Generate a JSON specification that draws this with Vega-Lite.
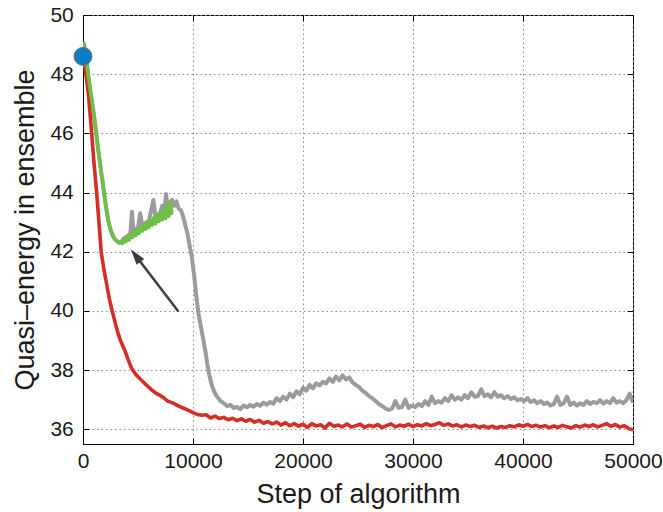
{
  "$schema": "https://vega.github.io/schema/vega-lite/v6.json",
  "width": 550,
  "height": 429,
  "autosize": "none",
  "padding": {"left": 83, "top": 15, "right": 30, "bottom": 68},
  "background": "white",
  "config": {
    "view": {"stroke": "black", "strokeWidth": 1},
    "font": "Liberation Sans",
    "axis": {
      "domainColor": "black",
      "domainWidth": 1,
      "tickColor": "black",
      "tickSize": -6,
      "tickWidth": 1,
      "labelColor": "#1a1a1a",
      "labelFont": "Liberation Sans",
      "labelFontSize": 21,
      "labelFlush": false,
      "labelOverlap": false,
      "titleFont": "Liberation Sans",
      "titleFontSize": 27,
      "titleFontWeight": "normal",
      "titleColor": "#1a1a1a",
      "gridColor": "#8c8c8c",
      "gridDash": [1.5, 3],
      "gridWidth": 1
    }
  },
  "datasets": {
    "red": [
      {"x": 0, "y": 48.6}, {"x": 150, "y": 48.3}, {"x": 300, "y": 47.9}, {"x": 500, "y": 47.3},
      {"x": 790, "y": 46.0}, {"x": 1000, "y": 45.0}, {"x": 1240, "y": 44.0}, {"x": 1450, "y": 43.0},
      {"x": 1650, "y": 42.0}, {"x": 1900, "y": 41.4}, {"x": 2150, "y": 40.9}, {"x": 2400, "y": 40.4},
      {"x": 2650, "y": 40.0}, {"x": 3060, "y": 39.4}, {"x": 3400, "y": 39.0}, {"x": 3820, "y": 38.65},
      {"x": 4100, "y": 38.35}, {"x": 4430, "y": 38.05}, {"x": 4800, "y": 37.85}, {"x": 5200, "y": 37.7},
      {"x": 5600, "y": 37.55}, {"x": 6240, "y": 37.33}, {"x": 6700, "y": 37.2}, {"x": 7200, "y": 37.1},
      {"x": 7700, "y": 36.95}, {"x": 8200, "y": 36.88}, {"x": 8700, "y": 36.78}, {"x": 9200, "y": 36.7},
      {"x": 9700, "y": 36.62},
      {"x": 10000, "y": 36.56}, {"x": 10400, "y": 36.50}, {"x": 10800, "y": 36.47}, {"x": 11200, "y": 36.49},
      {"x": 11600, "y": 36.38}, {"x": 12000, "y": 36.44}, {"x": 12400, "y": 36.36}, {"x": 12800, "y": 36.40},
      {"x": 13200, "y": 36.32}, {"x": 13600, "y": 36.37}, {"x": 14000, "y": 36.29}, {"x": 14400, "y": 36.35},
      {"x": 14800, "y": 36.27}, {"x": 15200, "y": 36.33}, {"x": 15600, "y": 36.24}, {"x": 16000, "y": 36.30},
      {"x": 16400, "y": 36.20}, {"x": 16800, "y": 36.26}, {"x": 17200, "y": 36.18}, {"x": 17600, "y": 36.24},
      {"x": 18000, "y": 36.14}, {"x": 18400, "y": 36.22}, {"x": 18800, "y": 36.12}, {"x": 19200, "y": 36.19},
      {"x": 19600, "y": 36.10}, {"x": 20000, "y": 36.17}, {"x": 20400, "y": 36.06}, {"x": 20800, "y": 36.19},
      {"x": 21200, "y": 36.11}, {"x": 21600, "y": 36.15}, {"x": 22000, "y": 36.04}, {"x": 22400, "y": 36.20},
      {"x": 22800, "y": 36.10}, {"x": 23200, "y": 36.14}, {"x": 23600, "y": 36.08}, {"x": 24000, "y": 36.18},
      {"x": 24400, "y": 36.07}, {"x": 24800, "y": 36.12}, {"x": 25200, "y": 36.17}, {"x": 25600, "y": 36.06},
      {"x": 26000, "y": 36.13}, {"x": 26400, "y": 36.09}, {"x": 26800, "y": 36.16}, {"x": 27200, "y": 36.05},
      {"x": 27600, "y": 36.12}, {"x": 28000, "y": 36.18}, {"x": 28400, "y": 36.08}, {"x": 28800, "y": 36.14},
      {"x": 29200, "y": 36.10}, {"x": 29600, "y": 36.17}, {"x": 30000, "y": 36.09}, {"x": 30400, "y": 36.15},
      {"x": 30800, "y": 36.11}, {"x": 31200, "y": 36.19}, {"x": 31600, "y": 36.12}, {"x": 32000, "y": 36.16},
      {"x": 32400, "y": 36.22}, {"x": 32800, "y": 36.13}, {"x": 33200, "y": 36.18}, {"x": 33600, "y": 36.11},
      {"x": 34000, "y": 36.15}, {"x": 34400, "y": 36.08}, {"x": 34800, "y": 36.14}, {"x": 35200, "y": 36.09},
      {"x": 35600, "y": 36.13}, {"x": 36000, "y": 36.06}, {"x": 36400, "y": 36.11}, {"x": 36800, "y": 36.05},
      {"x": 37200, "y": 36.10}, {"x": 37600, "y": 36.04}, {"x": 38000, "y": 36.09}, {"x": 38400, "y": 36.06},
      {"x": 38800, "y": 36.12}, {"x": 39200, "y": 36.08}, {"x": 39600, "y": 36.15}, {"x": 40000, "y": 36.10},
      {"x": 40400, "y": 36.16}, {"x": 40800, "y": 36.09}, {"x": 41200, "y": 36.13}, {"x": 41600, "y": 36.07},
      {"x": 42000, "y": 36.12}, {"x": 42400, "y": 36.05}, {"x": 42800, "y": 36.11}, {"x": 43200, "y": 36.06},
      {"x": 43600, "y": 36.13}, {"x": 44000, "y": 36.08}, {"x": 44400, "y": 36.04}, {"x": 44800, "y": 36.12},
      {"x": 45200, "y": 36.07}, {"x": 45600, "y": 36.14}, {"x": 46000, "y": 36.09}, {"x": 46400, "y": 36.15},
      {"x": 46800, "y": 36.08}, {"x": 47200, "y": 36.13}, {"x": 47600, "y": 36.19}, {"x": 48000, "y": 36.10},
      {"x": 48400, "y": 36.16}, {"x": 48800, "y": 36.07}, {"x": 49200, "y": 36.12}, {"x": 49600, "y": 36.02},
      {"x": 50000, "y": 35.98}
    ],
    "gray": [
      {"x": 0, "y": 49.1}, {"x": 100, "y": 49.0}, {"x": 300, "y": 48.5}, {"x": 500, "y": 47.9},
      {"x": 800, "y": 47.1}, {"x": 1000, "y": 46.6}, {"x": 1200, "y": 46.0}, {"x": 1400, "y": 45.4},
      {"x": 1650, "y": 44.7}, {"x": 1910, "y": 44.0}, {"x": 2100, "y": 43.5}, {"x": 2300, "y": 43.05},
      {"x": 2500, "y": 42.75}, {"x": 2700, "y": 42.55}, {"x": 2900, "y": 42.42}, {"x": 3100, "y": 42.35},
      {"x": 3300, "y": 42.3}, {"x": 3500, "y": 42.35}, {"x": 3700, "y": 42.45}, {"x": 3900, "y": 42.5},
      {"x": 4100, "y": 42.55}, {"x": 4300, "y": 42.6}, {"x": 4450, "y": 43.35}, {"x": 4600, "y": 42.65},
      {"x": 4800, "y": 42.75}, {"x": 5000, "y": 42.8}, {"x": 5200, "y": 43.3}, {"x": 5400, "y": 42.85},
      {"x": 5600, "y": 42.95}, {"x": 5800, "y": 43.0}, {"x": 6000, "y": 43.05}, {"x": 6200, "y": 43.4},
      {"x": 6400, "y": 43.75}, {"x": 6600, "y": 43.15}, {"x": 6800, "y": 43.25}, {"x": 7000, "y": 43.3},
      {"x": 7200, "y": 43.55}, {"x": 7400, "y": 43.4}, {"x": 7550, "y": 43.95}, {"x": 7700, "y": 43.5},
      {"x": 7900, "y": 43.6}, {"x": 8100, "y": 43.75}, {"x": 8300, "y": 43.55}, {"x": 8500, "y": 43.7},
      {"x": 8700, "y": 43.45}, {"x": 8900, "y": 43.4}, {"x": 9100, "y": 43.2}, {"x": 9300, "y": 42.9},
      {"x": 9500, "y": 42.6}, {"x": 9700, "y": 42.2}, {"x": 9900, "y": 41.8}, {"x": 10100, "y": 41.2},
      {"x": 10300, "y": 40.5}, {"x": 10500, "y": 39.9}, {"x": 10700, "y": 39.5}, {"x": 10900, "y": 39.1},
      {"x": 11100, "y": 38.7}, {"x": 11300, "y": 38.2}, {"x": 11500, "y": 37.8}, {"x": 11700, "y": 37.5},
      {"x": 11900, "y": 37.3}, {"x": 12100, "y": 37.15}, {"x": 12300, "y": 37.05}, {"x": 12500, "y": 36.95},
      {"x": 12800, "y": 36.88}, {"x": 13100, "y": 36.78}, {"x": 13400, "y": 36.82}, {"x": 13700, "y": 36.72},
      {"x": 14000, "y": 36.75}, {"x": 14300, "y": 36.68}, {"x": 14600, "y": 36.8}, {"x": 14900, "y": 36.74},
      {"x": 15200, "y": 36.82}, {"x": 15500, "y": 36.76}, {"x": 15800, "y": 36.85}, {"x": 16100, "y": 36.79},
      {"x": 16400, "y": 36.9}, {"x": 16700, "y": 36.83}, {"x": 17000, "y": 36.92}, {"x": 17300, "y": 36.86},
      {"x": 17600, "y": 37.05}, {"x": 17900, "y": 36.95}, {"x": 18200, "y": 37.1}, {"x": 18500, "y": 37.0},
      {"x": 18800, "y": 37.2}, {"x": 19100, "y": 37.08}, {"x": 19400, "y": 37.28}, {"x": 19700, "y": 37.18},
      {"x": 20000, "y": 37.4}, {"x": 20300, "y": 37.3}, {"x": 20600, "y": 37.5}, {"x": 20900, "y": 37.38},
      {"x": 21200, "y": 37.55}, {"x": 21500, "y": 37.48}, {"x": 21800, "y": 37.6}, {"x": 22100, "y": 37.55},
      {"x": 22400, "y": 37.72}, {"x": 22700, "y": 37.6}, {"x": 23000, "y": 37.78}, {"x": 23300, "y": 37.65},
      {"x": 23600, "y": 37.82}, {"x": 23900, "y": 37.68}, {"x": 24200, "y": 37.75}, {"x": 24500, "y": 37.58},
      {"x": 24800, "y": 37.5}, {"x": 25100, "y": 37.42}, {"x": 25400, "y": 37.3}, {"x": 25700, "y": 37.22},
      {"x": 26000, "y": 37.12}, {"x": 26300, "y": 37.05}, {"x": 26600, "y": 36.95}, {"x": 26900, "y": 36.85},
      {"x": 27200, "y": 36.78}, {"x": 27500, "y": 36.7}, {"x": 27800, "y": 36.65}, {"x": 28100, "y": 36.7},
      {"x": 28400, "y": 36.95}, {"x": 28700, "y": 36.72}, {"x": 29000, "y": 36.75}, {"x": 29300, "y": 37.0},
      {"x": 29600, "y": 36.72}, {"x": 29900, "y": 36.8}, {"x": 30200, "y": 36.75}, {"x": 30500, "y": 36.85},
      {"x": 30800, "y": 36.78}, {"x": 31100, "y": 36.95}, {"x": 31400, "y": 36.82}, {"x": 31700, "y": 37.1},
      {"x": 32000, "y": 36.88}, {"x": 32300, "y": 36.95}, {"x": 32600, "y": 36.9}, {"x": 32900, "y": 37.05},
      {"x": 33200, "y": 36.95}, {"x": 33500, "y": 37.15}, {"x": 33800, "y": 37.0}, {"x": 34100, "y": 37.08},
      {"x": 34400, "y": 37.0}, {"x": 34700, "y": 37.15}, {"x": 35000, "y": 37.05}, {"x": 35300, "y": 37.25},
      {"x": 35600, "y": 37.1}, {"x": 35900, "y": 37.12}, {"x": 36200, "y": 37.35}, {"x": 36500, "y": 37.12},
      {"x": 36800, "y": 37.18}, {"x": 37100, "y": 37.08}, {"x": 37400, "y": 37.25}, {"x": 37700, "y": 37.1},
      {"x": 38000, "y": 37.15}, {"x": 38300, "y": 37.05}, {"x": 38600, "y": 37.12}, {"x": 38900, "y": 37.02},
      {"x": 39200, "y": 37.08}, {"x": 39500, "y": 36.98}, {"x": 39800, "y": 37.02}, {"x": 40100, "y": 36.95},
      {"x": 40400, "y": 37.05}, {"x": 40700, "y": 36.92}, {"x": 41000, "y": 36.98}, {"x": 41300, "y": 36.88},
      {"x": 41600, "y": 36.95}, {"x": 41900, "y": 36.85}, {"x": 42200, "y": 36.9}, {"x": 42500, "y": 36.8},
      {"x": 42800, "y": 36.85}, {"x": 43100, "y": 37.1}, {"x": 43400, "y": 36.82}, {"x": 43700, "y": 36.88},
      {"x": 44000, "y": 37.1}, {"x": 44300, "y": 36.82}, {"x": 44600, "y": 36.9}, {"x": 44900, "y": 36.8},
      {"x": 45200, "y": 36.88}, {"x": 45500, "y": 36.82}, {"x": 45800, "y": 36.95}, {"x": 46100, "y": 36.85},
      {"x": 46400, "y": 36.92}, {"x": 46700, "y": 36.88}, {"x": 47000, "y": 36.98}, {"x": 47300, "y": 36.86},
      {"x": 47600, "y": 36.95}, {"x": 47900, "y": 36.88}, {"x": 48200, "y": 37.05}, {"x": 48500, "y": 36.9},
      {"x": 48800, "y": 36.95}, {"x": 49100, "y": 36.88}, {"x": 49400, "y": 36.98}, {"x": 49700, "y": 37.2},
      {"x": 50000, "y": 36.9}
    ],
    "green": [
      {"x": 0, "y": 49.1}, {"x": 100, "y": 49.0}, {"x": 300, "y": 48.5}, {"x": 500, "y": 47.9},
      {"x": 800, "y": 47.1}, {"x": 1000, "y": 46.6}, {"x": 1200, "y": 46.0}, {"x": 1400, "y": 45.4},
      {"x": 1650, "y": 44.7}, {"x": 1910, "y": 44.0}, {"x": 2100, "y": 43.5}, {"x": 2300, "y": 43.05},
      {"x": 2500, "y": 42.75}, {"x": 2700, "y": 42.55}, {"x": 2900, "y": 42.42}, {"x": 3100, "y": 42.35},
      {"x": 3300, "y": 42.3}, {"x": 3450, "y": 42.33}, {"x": 3600, "y": 42.28}, {"x": 3750, "y": 42.42},
      {"x": 3900, "y": 42.34}, {"x": 4050, "y": 42.5}, {"x": 4200, "y": 42.4}, {"x": 4350, "y": 42.58},
      {"x": 4500, "y": 42.48}, {"x": 4650, "y": 42.68}, {"x": 4800, "y": 42.55}, {"x": 4950, "y": 42.75},
      {"x": 5100, "y": 42.62}, {"x": 5250, "y": 42.85}, {"x": 5400, "y": 42.7}, {"x": 5550, "y": 42.9},
      {"x": 5700, "y": 42.76}, {"x": 5850, "y": 43.0}, {"x": 6000, "y": 42.82}, {"x": 6150, "y": 43.08},
      {"x": 6300, "y": 42.9}, {"x": 6450, "y": 43.15}, {"x": 6600, "y": 42.95}, {"x": 6750, "y": 43.25},
      {"x": 6900, "y": 43.02}, {"x": 7050, "y": 43.3}, {"x": 7200, "y": 43.08}, {"x": 7350, "y": 43.45},
      {"x": 7500, "y": 43.12}, {"x": 7650, "y": 43.55}, {"x": 7800, "y": 43.2}, {"x": 7950, "y": 43.7},
      {"x": 8050, "y": 43.3}, {"x": 8100, "y": 43.4}
    ],
    "arrow": [{"x": 8670, "y": 39.98, "x2": 4780, "y2": 41.87}],
    "head": [{"x": 4780, "y": 41.87}],
    "start": [{"x": 0, "y": 48.6}]
  },
  "resolve": {"axis": {"x": "independent", "y": "independent"}},
  "layer": [
    {
      "data": {"name": "gray"},
      "mark": {"type": "line", "color": "#9b9b9f", "strokeWidth": 4, "strokeJoin": "round", "clip": true},
      "encoding": {
        "x": {"field": "x", "type": "quantitative", "scale": {"domain": [0, 50000], "nice": false},
              "axis": {"values": [0, 10000, 20000, 30000, 40000, 50000], "format": "d", "grid": true, "title": "Step of algorithm",
                       "labelBaseline": "alphabetic", "labelPadding": 29.7, "titleBaseline": "alphabetic", "titleY": 58}},
        "y": {"field": "y", "type": "quantitative", "scale": {"domain": [35.5, 50], "nice": false, "zero": false},
              "axis": {"values": [36, 38, 40, 42, 44, 46, 48, 50], "grid": true, "title": "Quasi–energy in ensemble",
                       "labelPadding": 15.7, "titleBaseline": "alphabetic", "titleX": -50, "titleFontSize": 27}}
      }
    },
    {
      "data": {"name": "red"},
      "mark": {"type": "line", "color": "#d42e27", "strokeWidth": 3.6, "strokeJoin": "round", "clip": true},
      "encoding": {
        "x": {"field": "x", "type": "quantitative", "axis": null},
        "y": {"field": "y", "type": "quantitative", "axis": null}
      }
    },
    {
      "data": {"name": "green"},
      "mark": {"type": "line", "color": "#6dbf46", "strokeWidth": 3.6, "strokeJoin": "round", "clip": true},
      "encoding": {
        "x": {"field": "x", "type": "quantitative", "axis": null},
        "y": {"field": "y", "type": "quantitative", "axis": null}
      }
    },
    {
      "data": {"name": "arrow"},
      "mark": {"type": "rule", "color": "#3d3d3d", "strokeWidth": 2.5},
      "encoding": {
        "x": {"field": "x", "type": "quantitative", "axis": null},
        "y": {"field": "y", "type": "quantitative", "axis": null},
        "x2": {"field": "x2"},
        "y2": {"field": "y2"}
      }
    },
    {
      "data": {"name": "head"},
      "mark": {"type": "point", "shape": "M0,-1L0.6,1L-0.6,1Z", "filled": true, "color": "#3d3d3d", "opacity": 1, "size": 256, "angle": 322.7},
      "encoding": {
        "x": {"field": "x", "type": "quantitative", "axis": null},
        "y": {"field": "y", "type": "quantitative", "axis": null}
      }
    },
    {
      "data": {"name": "start"},
      "mark": {"type": "point", "shape": "circle", "filled": true, "fill": "#0a7ec5", "stroke": "#6f6f6f", "strokeWidth": 1, "opacity": 1, "size": 320, "clip": false},
      "encoding": {
        "x": {"field": "x", "type": "quantitative",
              "axis": {"orient": "top", "values": [0, 10000, 20000, 30000, 40000, 50000], "labels": false, "title": null, "grid": false, "domain": false}},
        "y": {"field": "y", "type": "quantitative",
              "axis": {"orient": "right", "values": [36, 38, 40, 42, 44, 46, 48, 50], "labels": false, "title": null, "grid": false, "domain": false}}
      }
    }
  ]
}
